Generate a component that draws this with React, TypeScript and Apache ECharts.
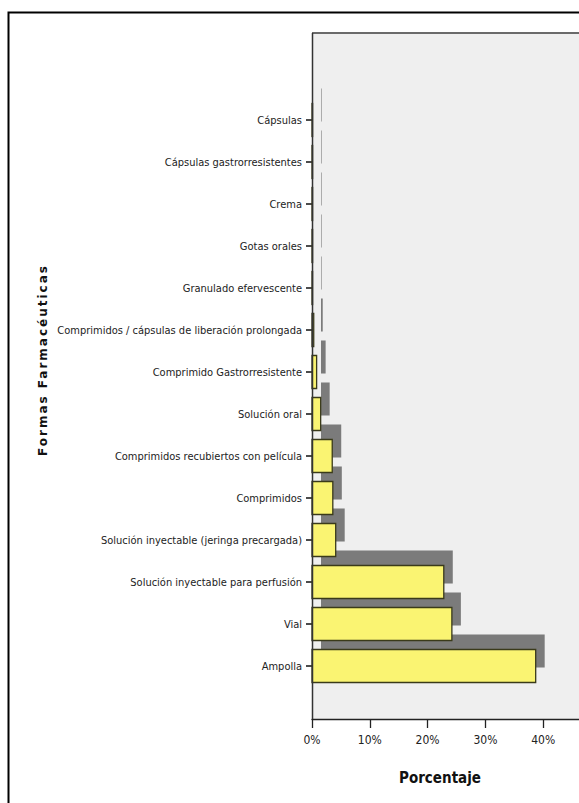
import React, { useEffect, useRef } from "react";
import * as echarts from "echarts";

const categories = [
  "Cápsulas",
  "Cápsulas gastrorresistentes",
  "Crema",
  "Gotas orales",
  "Granulado efervescente",
  "Comprimidos / cápsulas de liberación prolongada",
  "Comprimido Gastrorresistente",
  "Solución oral",
  "Comprimidos recubiertos con película",
  "Comprimidos",
  "Solución inyectable (jeringa precargada)",
  "Solución inyectable para perfusión",
  "Vial",
  "Ampolla",
];
const percentages = [0.1, 0.1, 0.1, 0.1, 0.1, 0.3, 0.8, 1.5, 3.5, 3.6, 4.1, 22.8, 24.2, 38.7];
const xTicks = [0, 10, 20, 30, 40, 50];

const DX = 9;
const DY = -15;
const BAR_FRAC = 0.786;
const NARROW = "'DejaVu Sans Condensed', 'Liberation Sans Narrow', Roboto, sans-serif";

export default function App() {
  const ref = useRef<HTMLDivElement>(null);
  useEffect(() => {
    if (!ref.current) return;
    const chart = echarts.init(ref.current, undefined, { renderer: "svg" });
    const data = percentages.map((v, i) => [v, i]);
    const makeRender = (shadow: boolean) => (params: any, api: any) => {
      const v = api.value(0);
      const idx = api.value(1);
      const p0 = api.coord([0, idx]);
      const p1 = api.coord([v, idx]);
      const band = api.size([0, 1])[1];
      const h = band * BAR_FRAC;
      const w = p1[0] - p0[0];
      if (shadow) {
        return {
          type: "rect",
          shape: { x: p0[0] + DX, y: p0[1] - h / 2 + DY, width: w, height: h },
          style: { fill: "#7b7b7b" },
        };
      }
      return {
        type: "rect",
        shape: { x: p0[0], y: p0[1] - h / 2, width: w, height: h },
        style: { fill: "#faf472", stroke: "#3a3a1a", lineWidth: 1.3 },
      };
    };
    chart.setOption({
      animation: false,
      backgroundColor: "#ffffff",
      grid: {
        left: 312,
        top: 99,
        width: 289,
        height: 588,
        containLabel: false,
        outerBoundsMode: "none",
      },
      xAxis: {
        type: "value",
        min: xTicks[0],
        max: xTicks[xTicks.length - 1],
        interval: 10,
        offset: 32,
        axisLine: { show: true, lineStyle: { color: "#222", width: 1.3 } },
        axisTick: { show: true, length: 9, lineStyle: { color: "#222", width: 1.3 } },
        splitLine: { show: false },
        axisLabel: {
          formatter: (v: number) => (v >= 50 ? "" : v + "%"),
          margin: 15,
          fontFamily: NARROW,
          fontSize: 12,
          color: "#222",
        },
      },
      yAxis: {
        type: "category",
        inverse: true,
        data: categories,
        axisLine: { show: false },
        axisTick: { show: true, alignWithLabel: true, length: 6, lineStyle: { color: "#111", width: 1.5 } },
        axisLabel: {
          margin: 10,
          fontFamily: NARROW,
          fontSize: 11,
          color: "#222",
        },
      },
      graphic: [
        {
          type: "rect",
          z: -10,
          shape: { x: 312, y: 33, width: 300, height: 686 },
          style: { fill: "#efefef" },
        },
        {
          type: "line",
          z: -5,
          shape: { x1: 312, y1: 33, x2: 612, y2: 33 },
          style: { stroke: "#6a6a6a", lineWidth: 2 },
        },
        {
          type: "line",
          z: 100,
          shape: { x1: 312.5, y1: 33, x2: 312.5, y2: 719 },
          style: { stroke: "#333", lineWidth: 1.5 },
        },
        {
          type: "rect",
          z: 100,
          shape: { x: 8.5, y: 12.5, width: 620, height: 830 },
          style: { fill: "none", stroke: "#000", lineWidth: 2 },
        },
        {
          type: "text",
          z: 100,
          x: 440,
          y: 778,
          style: {
            text: "Porcentaje",
            fontFamily: NARROW,
            fontWeight: "bold",
            fontSize: 15,
            fill: "#111",
            align: "center",
            verticalAlign: "middle",
          },
        },
        {
          type: "text",
          z: 100,
          x: 43,
          y: 360,
          rotation: Math.PI / 2,
          style: {
            text: "Formas Farmacéuticas",
            fontFamily: "'DejaVu Sans', sans-serif",
            fontWeight: "bold",
            fontSize: 12,
            fill: "#111",
            align: "center",
            verticalAlign: "middle",
          },
        },
      ],
      series: [
        {
          type: "custom",
          z: 2,
          renderItem: makeRender(true),
          encode: { x: 0, y: 1 },
          data,
        },
        {
          type: "custom",
          z: 3,
          renderItem: makeRender(false),
          encode: { x: 0, y: 1 },
          data,
        },
      ],
    });
    const texts = ref.current.querySelectorAll("text");
    texts.forEach((t) => {
      if (t.textContent === "Formas Farmacéuticas") {
        t.setAttribute("letter-spacing", "2");
      }
    });
    return () => chart.dispose();
  }, []);
  return (
    <div
      ref={ref}
      style={{ position: "absolute", left: 0, top: 0, width: 579, height: 803 }}
    />
  );
}
